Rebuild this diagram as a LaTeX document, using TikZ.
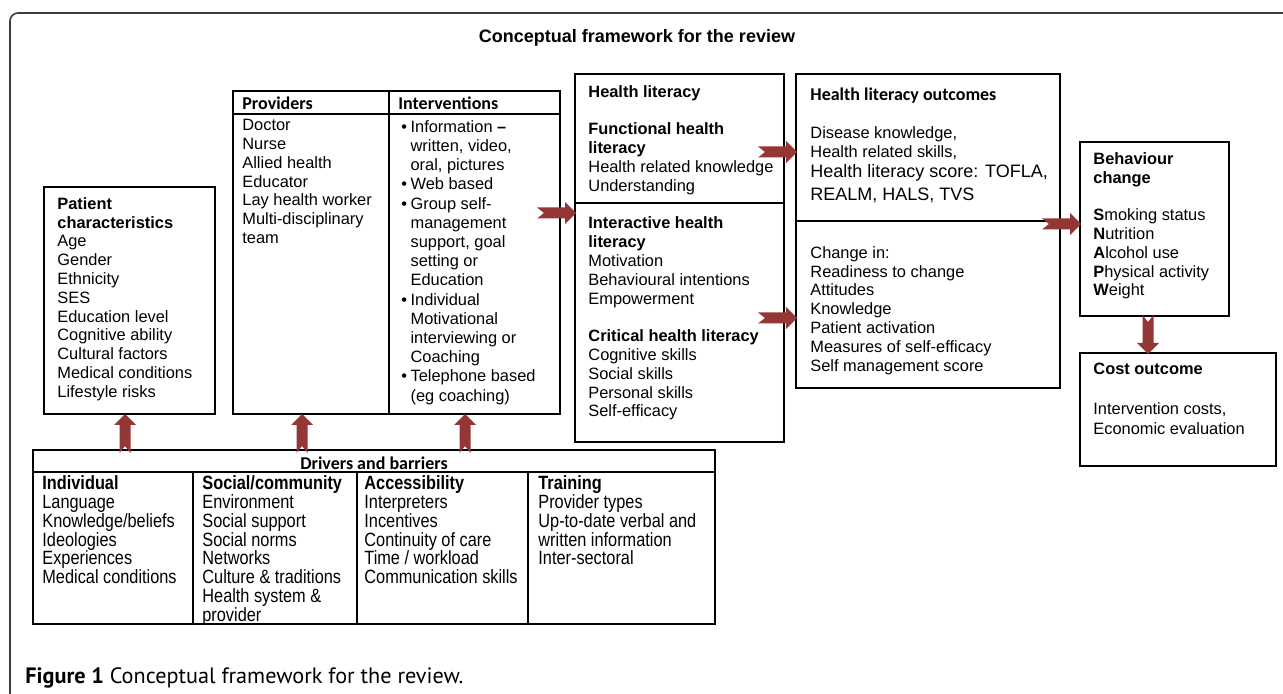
\documentclass[tikz,border=0pt]{standalone}
\usepackage{graphicx}
\usepackage{fontspec}
\setmainfont{Liberation Sans}
\newfontfamily\calib{Carlito}
\newfontfamily\narrowf[FakeStretch=0.85]{Liberation Sans}
\newfontfamily\capf{PT Sans}
\usetikzlibrary{fit}
\definecolor{arrowred}{RGB}{148,54,52}
\definecolor{framecol}{RGB}{60,60,60}
\tikzset{
  box/.style={draw, line width=0.65pt, inner sep=0pt},
  divline/.style={line width=0.65pt},
  txt/.style={anchor=north west, inner sep=0pt, align=left, font=\fontsize{8.2}{9.4}\selectfont},
  itxt/.style={anchor=north west, inner sep=0pt, align=left, font=\fontsize{8.2}{9.6}\selectfont},
  calhead/.style={anchor=north west, inner sep=0pt, font=\calib\bfseries\fontsize{9}{11}\selectfont},
  drtxt/.style={anchor=north west, inner sep=0pt, align=left, font=\narrowf\fontsize{9.6}{9.45}\selectfont},
  fatarr/.pic={\fill[arrowred] (0,-5.5) -- (28,-5.5) -- (28,-11) -- (39,0) -- (28,11) -- (28,5.5) -- (0,5.5) -- (7,0) -- cycle;}
}
\newcommand{\bul}{\makebox[4.6pt][l]{•}}
\newcommand{\ind}{\hspace*{4.6pt}}
\begin{document}
\begin{tikzpicture}[x=0.5pt, y=-0.5pt]
\useasboundingbox (0,0) rectangle (1283,694);
\fill[white] (0,0) rectangle (1283,694);
% outer frame
\draw[framecol, line width=0.8pt, rounded corners=4pt] (10,720) -- (10,13) -- (1320,13);
% title
\node[font=\bfseries\fontsize{9}{11}\selectfont, inner sep=0pt] (title) at (637,38) {Conceptual framework for the review};

% Patient characteristics
\node[box, fit={(44,187) (215,414)}] (pc) {};
\node[txt] (pct) at (57,197) {\textbf{Patient}\\\textbf{characteristics}\\Age\\Gender\\Ethnicity\\SES\\Education level\\Cognitive ability\\Cultural factors\\Medical conditions\\Lifestyle risks};

% Providers / Interventions
\node[box, fit={(233,91) (560,414)}] (pi) {};
\draw[divline] (pi.north west |- 0,114) -- (pi.north east |- 0,114);
\draw[divline] (389,91) -- (389,414);
\node[calhead] (provh) at (242,96) {Providers};
\node[calhead] (inth) at (398,96) {Interventions};
\node[txt] (prov) at (242,119) {Doctor\\Nurse\\Allied health\\Educator\\Lay health worker\\Multi-disciplinary\\team};
\node[itxt] (int) at (401,120) {\bul Information \textbf{–}\\\ind written, video,\\\ind oral, pictures\\\bul Web based\\\bul Group self-\\\ind management\\\ind support, goal\\\ind setting or\\\ind Education\\\bul Individual\\\ind Motivational\\\ind interviewing or\\\ind Coaching\\\bul Telephone based\\\ind (eg coaching)};

% Health literacy
\node[box, fit={(575,74) (784,442)}] (hl) {};
\draw[divline] (hl.west |- 0,203) -- (hl.east |- 0,203);
\node[txt] (hlt) at (588,85) {\textbf{Health literacy}\\[9.4pt]\textbf{Functional health}\\\textbf{literacy}\\Health related knowledge\\Understanding\\[9.4pt]\textbf{Interactive health}\\\textbf{literacy}\\Motivation\\Behavioural intentions\\Empowerment\\[9.4pt]\textbf{Critical health literacy}\\Cognitive skills\\Social skills\\Personal skills\\Self-efficacy};

% Health literacy outcomes
\node[box, fit={(796,74) (1060,388)}] (hlo) {};
\draw[divline] (hlo.west |- 0,221) -- (hlo.east |- 0,221);
\node[calhead] (hloh) at (810,87) {Health literacy outcomes};
\node[txt] (hlo1) at (810,126) {Disease knowledge,\\Health related skills,};
\node[anchor=north west, inner sep=0pt, align=left, font=\fontsize{9}{11.5}\selectfont] (hlo2) at (810,164.5) {Health literacy score: TOFLA,\\REALM, HALS, TVS};
\node[txt] (hlo3) at (810,246) {Change in:\\Readiness to change\\Attitudes\\Knowledge\\Patient activation\\Measures of self-efficacy\\Self management score};

% Behaviour change
\node[box, fit={(1080,142) (1229,316)}] (bc) {};
\node[txt] (bct) at (1093,152) {\textbf{Behaviour}\\\textbf{change}\\[9.4pt]\textbf{S}moking status\\\textbf{N}utrition\\\textbf{A}lcohol use\\\textbf{P}hysical activity\\\textbf{W}eight};

% Cost outcome
\node[box, fit={(1080,353) (1276,466)}] (co) {};
\node[txt] (coh) at (1093,363) {\textbf{Cost outcome}};
\node[anchor=north west, inner sep=0pt, align=left, font=\fontsize{8.2}{10}\selectfont] (cot) at (1093,402) {Intervention costs,\\Economic evaluation};

% Drivers and barriers
\node[box, fit={(33,450) (715,624)}] (db) {};
\draw[divline] (db.west |- 0,472) -- (db.east |- 0,472);
\draw[divline] (193,472) -- (193,624);
\draw[divline] (357,472) -- (357,624);
\draw[divline] (528,472) -- (528,624);
\node[anchor=north, inner sep=0pt, font=\calib\bfseries\fontsize{9}{11}\selectfont] (dbh) at (374,456) {Drivers and barriers};
\node[drtxt] (d1) at (42,475) {\textbf{Individual}\\Language\\Knowledge/beliefs\\Ideologies\\Experiences\\Medical conditions};
\node[drtxt] (d2) at (202,475) {\textbf{Social/community}\\Environment\\Social support\\Social norms\\Networks\\Culture \& traditions\\Health system \&\\provider};
\node[drtxt] (d3) at (364,475) {\textbf{Accessibility}\\Interpreters\\Incentives\\Continuity of care\\Time / workload\\Communication skills};
\node[drtxt] (d4) at (538,475) {\textbf{Training}\\Provider types\\Up-to-date verbal and\\written information\\Inter-sectoral};

% arrows
\coordinate (a1) at (537,213);
\coordinate (a2) at (758,152);
\coordinate (a3) at (758,318);
\coordinate (a4) at (1042,224);
\coordinate (a5) at (1148,315);
\coordinate (u1) at (125,453);
\coordinate (u2) at (302,453);
\coordinate (u3) at (465,453);
\pic at (a1) {fatarr};
\pic at (a2) {fatarr};
\pic at (a3) {fatarr};
\pic at (a4) {fatarr};
\pic[rotate=-90] at (a5) {fatarr};
\pic[rotate=90] at (u1) {fatarr};
\pic[rotate=90] at (u2) {fatarr};
\pic[rotate=90] at (u3) {fatarr};

% caption
\node[anchor=west, inner sep=0pt] (cap) at (25,678) {\resizebox{219pt}{!}{\capf\textbf{Figure 1} Conceptual framework for the review.}};
\end{tikzpicture}
\end{document}
